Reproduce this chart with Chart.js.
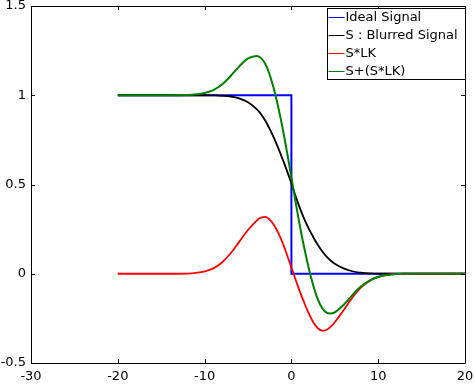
<!DOCTYPE html>
<html>
<head>
<meta charset="utf-8">
<script src="https://cdn.jsdelivr.net/npm/chart.js@4/dist/chart.umd.min.js"></script>
<style>
  html, body { margin: 0; padding: 0; background: #fff; }
</style>
</head>
<body>
<canvas id="chart" width="475" height="384"></canvas>
<script>
// values
const seriesLabels = ["Ideal Signal", "S : Blurred Signal", "S*LK", "S+(S*LK)"];
const idealX = [-20, 0, 0, 20];
const idealY = [1, 1, 0, 0];
const xValues = [-20, -15, -13, -12, -11, -10, -9, -8, -7, -6, -5, -4, -3.5, -3, -2.5, -2, -1.5, -1, -0.5, 0,
  0.5, 1, 1.5, 2, 2.5, 3, 3.5, 4, 4.5, 5, 6, 7, 8, 9, 10, 11, 12, 13, 15, 20];
const blurred = [1, 1, 1, 1, 1, 1, 0.999, 0.997, 0.993, 0.982, 0.961, 0.922, 0.894, 0.857, 0.812, 0.76, 0.702, 0.64, 0.575, 0.505,
  0.433, 0.365, 0.305, 0.253, 0.207, 0.165, 0.129, 0.099, 0.075, 0.056, 0.03, 0.014, 0.006, 0.002, 0.001, 0, 0, 0, 0, 0];
const lkResponse = [0, 0, 0, 0.001, 0.005, 0.013, 0.03, 0.063, 0.115, 0.18, 0.245, 0.298, 0.314, 0.318, 0.303, 0.272, 0.228, 0.172, 0.105, 0.035,
  -0.035, -0.103, -0.165, -0.222, -0.27, -0.303, -0.318, -0.315, -0.298, -0.272, -0.205, -0.135, -0.078, -0.04, -0.018, -0.007, -0.002, 0, 0, 0];
const sharpened = [1, 1, 1, 1.001, 1.005, 1.013, 1.029, 1.06, 1.108, 1.162, 1.206, 1.22, 1.208, 1.175, 1.115, 1.032, 0.93, 0.812, 0.68, 0.54,
  0.398, 0.262, 0.14, 0.031, -0.063, -0.138, -0.189, -0.216, -0.223, -0.216, -0.175, -0.121, -0.072, -0.038, -0.017, -0.007, -0.002, 0, 0, 0];
const xTicks = [-30, -20, -10, 0, 10, 20];
const yTicks = [-0.5, 0, 0.5, 1, 1.5];

const colors = ["#0000ff", "#000000", "#ff0000", "#008000"];
const FONT = "DejaVu Sans";

function pairs(xs, ys) {
  return ys.map((y, i) => ({ x: xs[i], y: y }));
}

// box round the plot with small ticks pointing inward on all four sides
const framePlugin = {
  id: "frame",
  afterDatasetsDraw(chart) {
    const ctx = chart.ctx;
    const a = chart.chartArea;
    const xs = chart.scales.x;
    const ys = chart.scales.y;
    const tl = 4;
    ctx.save();
    ctx.strokeStyle = "#000";
    ctx.lineWidth = 1;
    ctx.beginPath();
    ctx.rect(Math.round(a.left) + 0.5, Math.round(a.top) + 0.5,
      Math.round(a.right - a.left), Math.round(a.bottom - a.top));
    xTicks.forEach((v) => {
      const px = Math.round(xs.getPixelForValue(v)) + 0.5;
      ctx.moveTo(px, a.bottom);
      ctx.lineTo(px, a.bottom - tl);
      ctx.moveTo(px, a.top);
      ctx.lineTo(px, a.top + tl);
    });
    yTicks.forEach((v) => {
      const py = Math.round(ys.getPixelForValue(v)) + 0.5;
      ctx.moveTo(a.left, py);
      ctx.lineTo(a.left + tl, py);
      ctx.moveTo(a.right, py);
      ctx.lineTo(a.right - tl, py);
    });
    ctx.stroke();

    // legend box in the top right corner
    const boxRight = Math.round(a.right) + 0.5;
    const boxLeft = boxRight - 138;
    const boxTop = Math.round(a.top) + 2.5;
    const rowH = 18;
    const boxH = 71;
    ctx.fillStyle = "#fff";
    ctx.fillRect(boxLeft, boxTop, boxRight - boxLeft, boxH);
    ctx.strokeRect(boxLeft, boxTop, boxRight - boxLeft, boxH);
    ctx.font = "13px '" + FONT + "'";
    ctx.textBaseline = "middle";
    ctx.textAlign = "left";
    seriesLabels.forEach((label, i) => {
      const cy = Math.round(boxTop + 8 + i * rowH) + 0.5;
      ctx.strokeStyle = colors[i];
      ctx.lineWidth = 1;
      ctx.beginPath();
      ctx.moveTo(boxLeft + 1, cy);
      ctx.lineTo(boxLeft + 17, cy);
      ctx.stroke();
      ctx.fillStyle = "#000";
      ctx.fillText(label, boxLeft + 18, cy);
    });
    ctx.restore();
  },
};

const chartCanvas = document.querySelector("#chart");

const data = {
  datasets: [
    {
      label: seriesLabels[0],
      data: pairs(idealX, idealY),
      borderColor: colors[0],
      borderWidth: 2,
      tension: 0,
      order: 4,
    },
    {
      label: seriesLabels[1],
      data: pairs(xValues, blurred),
      borderColor: colors[1],
      borderWidth: 1.8,
      tension: 0.4,
      order: 3,
    },
    {
      label: seriesLabels[2],
      data: pairs(xValues, lkResponse),
      borderColor: colors[2],
      borderWidth: 1.8,
      tension: 0.4,
      order: 2,
    },
    {
      label: seriesLabels[3],
      data: pairs(xValues, sharpened),
      borderColor: colors[3],
      borderWidth: 2,
      tension: 0.4,
      order: 1,
    },
  ],
};

const tickFont = { family: FONT, size: 13 };

function noPadding(scale) {
  scale.paddingTop = 0;
  scale.paddingBottom = 0;
  scale.paddingLeft = 0;
  scale.paddingRight = 0;
}

const config = {
  type: "scatter",
  data: data,
  options: {
    responsive: false,
    animation: false,
    showLine: true,
    pointRadius: 0,
    pointHoverRadius: 0,
    layout: { padding: { top: 6, right: 10, left: 0, bottom: 0 } },
    plugins: {
      legend: { display: false },
      tooltip: { enabled: false },
    },
    scales: {
      x: {
        type: "linear",
        min: -30,
        max: 20,
        grid: { display: false, drawTicks: false },
        border: { display: false },
        afterBuildTicks: (scale) => {
          scale.ticks = xTicks.map((v) => ({ value: v }));
        },
        afterFit: (scale) => {
          scale.height = 21;
          noPadding(scale);
        },
        ticks: {
          color: "#000",
          font: tickFont,
          padding: 6,
          maxRotation: 0,
          autoSkip: false,
          callback: (v) => String(v),
        },
      },
      y: {
        type: "linear",
        min: -0.5,
        max: 1.5,
        grid: { display: false, drawTicks: false },
        border: { display: false },
        afterBuildTicks: (scale) => {
          scale.ticks = yTicks.map((v) => ({ value: v }));
        },
        afterFit: (scale) => {
          scale.width = 31;
          noPadding(scale);
        },
        ticks: {
          color: "#000",
          font: tickFont,
          padding: 5,
          autoSkip: false,
          callback: (v) => String(v),
        },
      },
    },
  },
  plugins: [framePlugin],
};

const myChart = new Chart(chartCanvas, config);
</script>
</body>
</html>
